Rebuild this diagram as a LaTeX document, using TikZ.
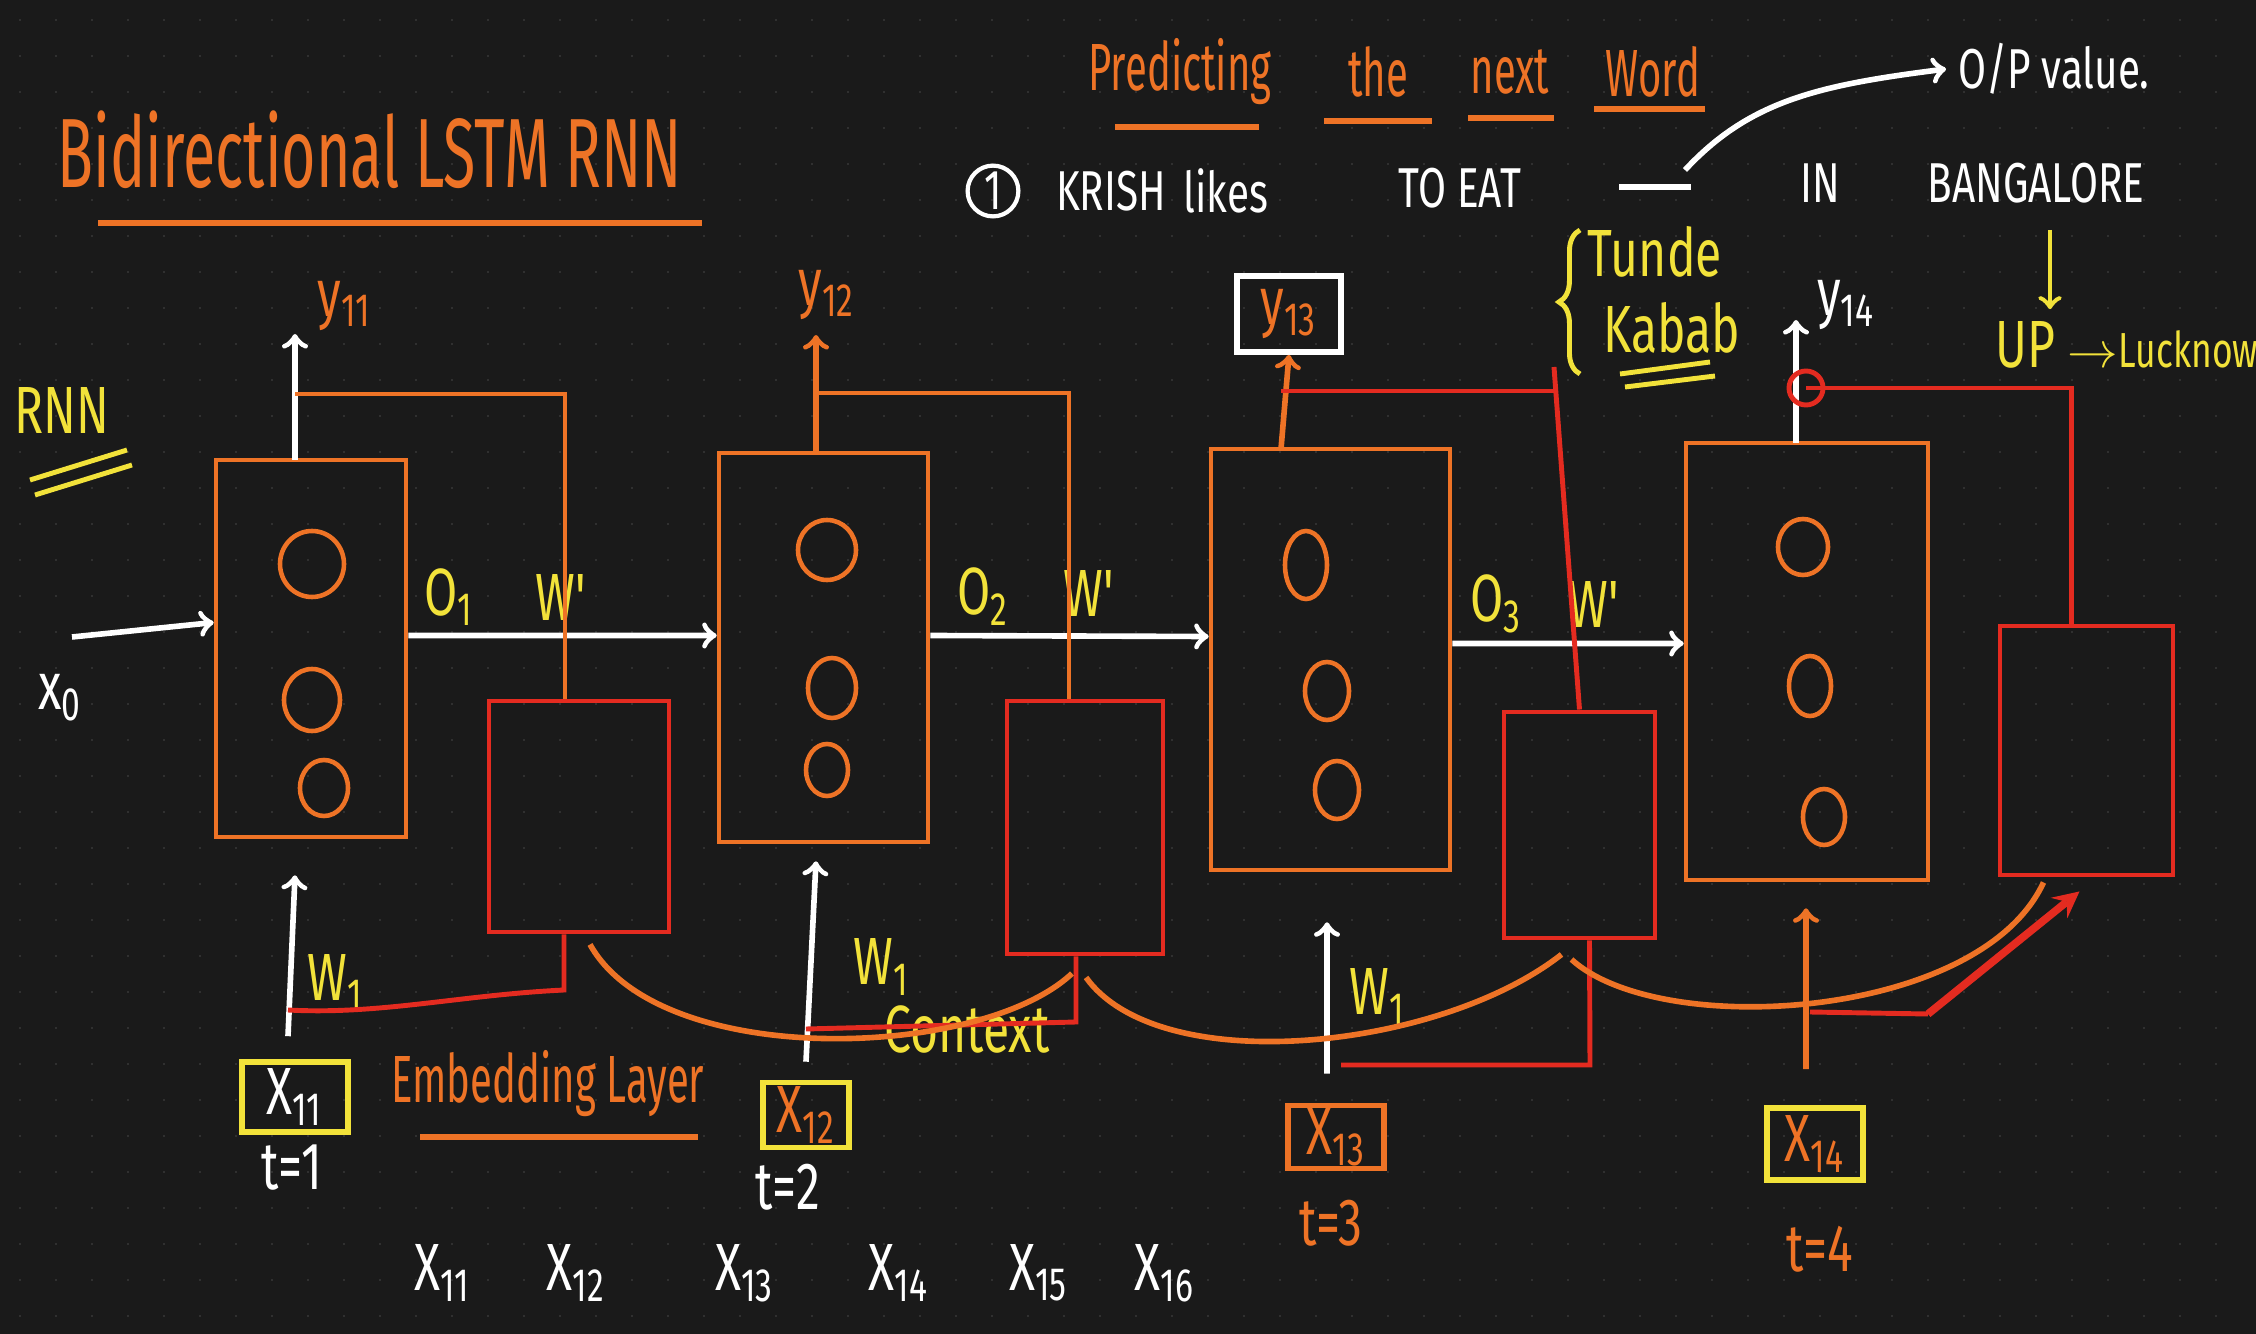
\documentclass[tikz,border=0pt]{standalone}
\usepackage{fontspec}
\newfontfamily\hand[FakeStretch=0.72]{Fira Sans}
\newfontfamily\handn[FakeStretch=0.6]{Fira Sans}
\usetikzlibrary{shapes,arrows,positioning,calc,decorations.pathreplacing}
\definecolor{board}{HTML}{1A1A1A}
\definecolor{dotc}{HTML}{383838}
\definecolor{lor}{HTML}{EE7326}
\definecolor{lred}{HTML}{E42B20}
\definecolor{lyel}{HTML}{F2E23A}

\begin{document}
\begin{tikzpicture}[
    cell/.style={draw=lor, line width=1.3pt},
    emb/.style={draw=lred, line width=1.4pt},
    flow/.style={white, line width=1.6pt, ->},
    oflow/.style={lor, line width=1.6pt, ->},
    oline/.style={lor, line width=1.3pt},
    rline/.style={lred, line width=1.4pt},
    inbox/.style={line width=1.6pt, inner sep=0pt},
    big/.style={font=\handn\fontsize{28}{28}\selectfont},
    head/.style={font=\handn\fontsize{19}{19}\selectfont},
    mid/.style={font=\hand\fontsize{19}{19}\selectfont},
    sml/.style={font=\hand\fontsize{16}{16}\selectfont}
  ]
  \useasboundingbox (0,0) rectangle (22.56,-13.34);
  \fill[board] (0,0) rectangle (22.56,-13.34);
  % dotted board
  \foreach \i in {0.2,0.56,...,22.5} {
    \foreach \j in {0.2,0.56,...,13.3} {
      \fill[dotc] (\i,-\j) circle (0.012);
    }
  }

  % title
  \node[big, text=lor] (title) at (3.70,-1.50) {Bidirectional LSTM RNN};
  \draw[oline, line width=1.6pt] (0.98,-2.23) -- (7.02,-2.23);
  \node[mid, text=lyel] (rnn) at (0.62,-4.10) {RNN};
  \draw[lyel, line width=1.4pt] (0.30,-4.80) -- (1.27,-4.50);
  \draw[lyel, line width=1.4pt] (0.35,-4.95) -- (1.32,-4.65);

  % forward cells
  \node[cell, minimum width=1.90cm, minimum height=3.77cm] (cellA) at (3.11,-6.485) {};
  \node[cell, minimum width=2.09cm, minimum height=3.89cm] (cellB) at (8.235,-6.475) {};
  \node[cell, minimum width=2.39cm, minimum height=4.21cm] (cellC) at (13.305,-6.595) {};
  \node[cell, minimum width=2.42cm, minimum height=4.37cm] (cellD) at (18.07,-6.615) {};
  \foreach \x/\y/\rx/\ry in {3.12/5.64/0.32/0.33, 3.12/7.00/0.28/0.31, 3.24/7.88/0.24/0.28,
      8.27/5.50/0.29/0.30, 8.32/6.88/0.24/0.30, 8.27/7.70/0.21/0.26,
      13.06/5.65/0.21/0.34, 13.27/6.91/0.22/0.29, 13.37/7.90/0.22/0.29,
      18.03/5.47/0.25/0.28, 18.10/6.86/0.21/0.30, 18.24/8.17/0.21/0.28} {
    \draw[oline] (\x,-\y) ellipse ({\rx} and {\ry});
  }

  % backward (embedding) cells
  \node[emb, minimum width=1.80cm, minimum height=2.31cm] (R1) at (5.79,-8.165) {};
  \node[emb, minimum width=1.56cm, minimum height=2.53cm] (R2) at (10.85,-8.275) {};
  \node[emb, minimum width=1.51cm, minimum height=2.26cm] (R3) at (15.795,-8.25) {};
  \node[emb, minimum width=1.73cm, minimum height=2.49cm] (R4) at (20.865,-7.505) {};

  % hidden state arrows
  \coordinate (x0s) at (0.72,-6.37);
  \node[mid, text=white] (x0) at (0.60,-6.98) {x\textsubscript{0}};
  \draw[flow] (x0s) -- ([yshift=2.6mm]cellA.west);
  \draw[flow] ([yshift=1.3mm]cellA.east) -- ([yshift=1.2mm]cellB.west);
  \draw[flow] ([yshift=1.2mm]cellB.east) -- ([yshift=2.3mm]cellC.west);
  \draw[flow] ([yshift=1.6mm]cellC.east) -- ([yshift=1.8mm]cellD.west);
  \node[mid, text=lyel] (oA) at (4.49,-5.97) {O\textsubscript{1}};
  \node[mid, text=lyel] (wA) at (5.61,-5.97) {W'};
  \node[mid, text=lyel] (oB) at (9.83,-5.97) {O\textsubscript{2}};
  \node[mid, text=lyel] (wB) at (10.89,-5.93) {W'};
  \node[mid, text=lyel] (oC) at (14.96,-6.04) {O\textsubscript{3}};
  \node[mid, text=lyel] (wC) at (15.94,-6.04) {W'};

  % outputs
  \coordinate (sA) at (2.95,-4.60); \coordinate (tA) at (2.95,-3.34); \coordinate (jA) at (2.95,-3.94);
  \coordinate (sB) at (8.16,-4.53); \coordinate (tB) at (8.16,-3.35); \coordinate (jB) at (8.16,-3.93);
  \coordinate (sC) at (12.81,-4.49); \coordinate (jC) at (12.81,-3.91); \coordinate (kC) at (15.54,-3.67);
  \coordinate (sD) at (17.96,-4.43); \coordinate (tD) at (17.96,-3.20); \coordinate (jD) at (18.06,-3.88);
  \node[mid, text=lor] (yA) at (3.45,-3.06) {y\textsubscript{11}};
  \node[mid, text=lor] (yB) at (8.27,-2.95) {y\textsubscript{12}};
  \node[mid, text=lor, draw=white, line width=1.6pt, minimum width=1.04cm, minimum height=0.76cm] (yC) at (12.89,-3.14) {y\textsubscript{13}};
  \node[mid, text=white] (yD) at (18.46,-3.05) {y\textsubscript{14}};
  \draw[flow] (sA) -- (tA);
  \draw[oflow] (sB) -- (tB);
  \draw[oflow] (sC) -- (yC.south);
  \draw[flow] (sD) -- (tD);
  \draw[oline] (jA) -| ([xshift=-1.4mm]R1.north);
  \draw[oline] (jB) -| ([xshift=-1.6mm]R2.north);
  \draw[rline] (jC) -- (jC -| kC);
  \draw[rline] (kC) -- (R3.north);
  \draw[rline] (jD) -| ([xshift=-1.5mm]R4.north);
  \draw[rline] (jD) circle (0.17);

  % inputs
  \node[inbox, draw=lyel, text=white, mid, minimum width=1.06cm, minimum height=0.70cm] (xA) at (2.95,-10.97) {X\textsubscript{11}};
  \node[inbox, draw=lyel, text=lor, mid, minimum width=0.86cm, minimum height=0.65cm] (xB) at (8.06,-11.15) {X\textsubscript{12}};
  \node[inbox, draw=lor, text=lor, mid, minimum width=0.96cm, minimum height=0.63cm] (xC) at (13.36,-11.37) {X\textsubscript{13}};
  \node[inbox, draw=lyel, text=lor, mid, minimum width=0.96cm, minimum height=0.72cm] (xD) at (18.15,-11.44) {X\textsubscript{14}};
  \node[mid, text=white] (tmA) at (2.92,-11.68) {t=1};
  \node[mid, text=white] (tmB) at (7.88,-11.87) {t=2};
  \node[mid, text=lor] (tmC) at (13.31,-12.23) {t=3};
  \node[mid, text=lor] (tmD) at (18.20,-12.49) {t=4};
  \draw[flow] ([xshift=-0.7mm,yshift=2.3mm]xA.north) -- ([yshift=-3.6mm]cellA.south -| tA);
  \draw[flow] ([yshift=1.8mm]xB.north) -- ([yshift=-1.7mm]cellB.south -| tB);
  \draw[flow] ([xshift=-0.9mm,yshift=2.9mm]xC.north) -- ([xshift=-0.35mm, yshift=-5.0mm]cellC.south);
  \draw[oflow] ([xshift=-0.9mm,yshift=3.6mm]xD.north) -- ([yshift=-2.6mm]cellD.south -| jD);
  \node[mid, text=lyel] (wiA) at (3.36,-9.83) {W\textsubscript{1}};
  \node[mid, text=lyel] (wiB) at (8.82,-9.67) {W\textsubscript{1}};
  \node[mid, text=lyel] (wiC) at (13.78,-9.97) {W\textsubscript{1}};
  \node[mid, text=lyel] (ctx) at (9.67,-10.29) {Context};
  \node[head, text=lor] (embl) at (5.48,-10.84) {Embedding Layer};
  \draw[oline, line width=1.6pt] (4.20,-11.37) -- (6.98,-11.37);

  % backward links
  \coordinate (bA) at (5.64,-9.90); \coordinate (eA) at (2.88,-10.10);
  \coordinate (bB) at (10.76,-10.22); \coordinate (eB) at (8.06,-10.29);
  \coordinate (bC) at (15.90,-10.65); \coordinate (eC) at (13.41,-10.65);
  \coordinate (bD) at (19.28,-10.14); \coordinate (eD) at (18.10,-10.12);
  \draw[rline] ([xshift=-1.5mm]R1.south) -- (bA) .. controls (4.6,-9.95) and (3.8,-10.15) .. (eA);
  \draw[rline] ([xshift=-0.9mm]R2.south) -- (bB) -- (eB);
  \draw[rline] ([xshift=1.0mm]R3.south) -- (bC) -- (eC);
  \draw[rline] (eD) -- (bD);
  \draw[lred, line width=2.2pt, -{stealth}] (bD) -- ([xshift=-0.7mm,yshift=-1.4mm]R4.south);
  \draw[oline, line width=1.6pt] ([xshift=1.1mm,yshift=-1mm]R1.south) .. controls (6.6,-10.7) and (9.8,-10.6) .. ([xshift=-1.3mm,yshift=-1.7mm]R2.south);
  \draw[oline, line width=1.6pt] ([xshift=0.1mm,yshift=-2.1mm]R2.south) .. controls (11.6,-10.8) and (14.4,-10.5) .. ([xshift=-1.8mm,yshift=-1.4mm]R3.south);
  \draw[oline, line width=1.6pt] ([xshift=-0.8mm,yshift=-1.9mm]R3.south) .. controls (16.6,-10.4) and (19.8,-10.2) .. ([xshift=-4.3mm,yshift=-0.5mm]R4.south);

  % sequence
  \foreach \x/\w in {4.43/11, 5.76/12, 7.45/13, 8.99/14, 10.39/15, 11.65/16} {
    \node[mid, text=white] (seq\w) at (\x,-12.73) {X\textsubscript{\w}};
  }

  % predicting the next word
  \foreach \x/\w/\a/\b/\u in {11.80/Predicting/11.15/12.59/1.27, 13.78/the/13.24/14.32/1.21,
      15.10/next/14.68/15.54/1.18, 16.53/Word/15.94/17.05/1.09} {
    \node[head, text=lor] (pw\w) at (\x,-0.72) {\w};
    \draw[oline, line width=1.6pt] (\a,-\u) -- (\b,-\u);
  }
  \node[circle, draw=white, line width=1.2pt, inner sep=1pt, text=white, sml] (one) at (9.93,-1.91) {1};
  \node[sml, text=white] (krish) at (11.11,-1.91) {KRISH};
  \node[sml, text=white] (likes) at (12.26,-1.91) {likes};
  \node[sml, text=white] (eat) at (14.60,-1.88) {TO EAT};
  \node[sml, text=white] (in) at (18.20,-1.83) {IN};
  \node[sml, text=white] (blr) at (20.36,-1.83) {BANGALORE};
  \coordinate (bl) at (16.19,-1.87); \coordinate (br) at (16.91,-1.87);
  \draw[white, line width=1.6pt] (bl) -- (br);
  \node[sml, text=white] (op) at (20.54,-0.69) {O/P value.};
  \draw[flow] ([xshift=-0.6mm,yshift=1.7mm]br) .. controls (17.5,-1.0) and (18.2,-0.85) .. (op.west);

  % candidate words
  \draw[lyel, line width=1.4pt, decorate, decoration={brace, amplitude=6pt}] (15.80,-3.74) -- (15.80,-2.30);
  \node[mid, text=lyel] (tunde) at (16.55,-2.52) {Tunde};
  \node[mid, text=lyel] (kabab) at (16.72,-3.28) {Kabab};
  \draw[lyel, line width=1.4pt] (16.20,-3.74) -- (17.10,-3.62);
  \draw[lyel, line width=1.4pt] (16.25,-3.87) -- (17.15,-3.76);
  \coordinate (dtop) at (20.50,-2.30);
  \node[mid, text=lyel, anchor=west] (up) at (19.83,-3.45) {UP \fontsize{14}{14}\selectfont$\rightarrow$Lucknow};
  \draw[lyel, line width=1.4pt, ->] (dtop) -- (up.north -| dtop);
\end{tikzpicture}
\end{document}
